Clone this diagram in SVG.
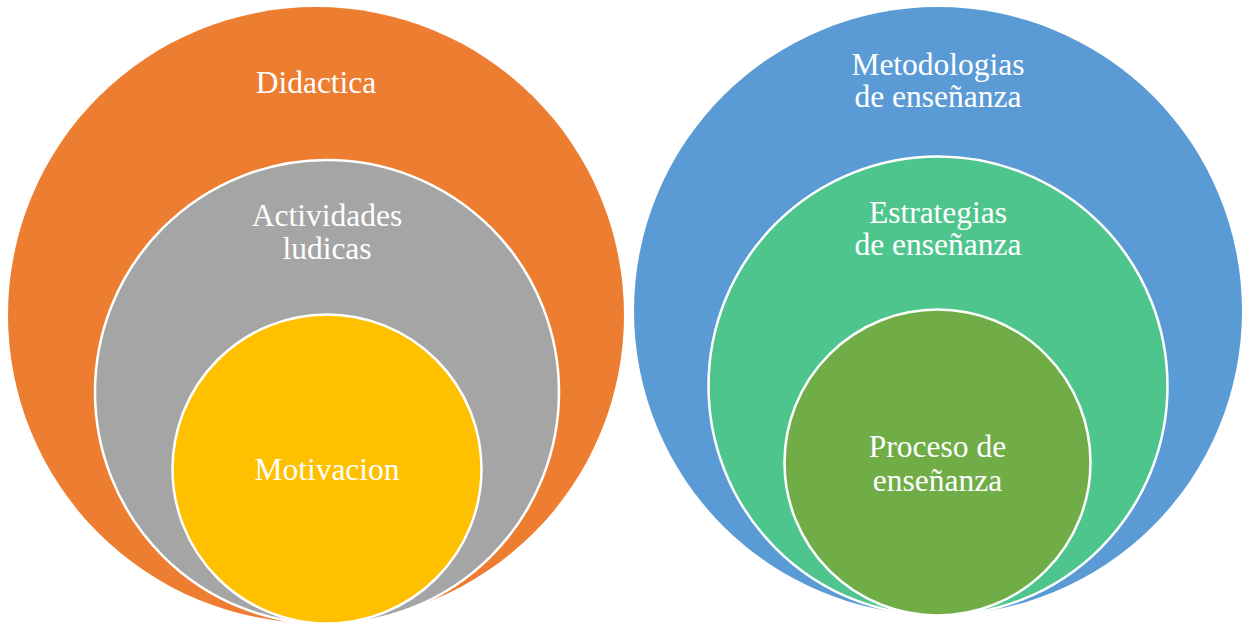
<svg xmlns="http://www.w3.org/2000/svg" width="1242" height="623" viewBox="0 0 1242 623">
<style>
.inner{stroke:#FFFFFF;stroke-width:2.5}
.lbl{font-family:"Liberation Serif","Times New Roman",serif;font-size:31.5px;fill:#FFFFFF;text-anchor:middle}
</style>
<rect x="0" y="0" width="1242" height="623" fill="#FFFFFF"/>
<g id="didactica">
<circle cx="316" cy="315" r="308" fill="#ED7D31"/>
<text class="lbl" x="316" y="93">Didactica</text>
</g>
<g id="actividades">
<circle class="inner" cx="327" cy="392" r="232" fill="#A5A5A5"/>
<text class="lbl" x="327" y="226">Actividades</text>
<text class="lbl" x="327" y="259">ludicas</text>
</g>
<g id="motivacion">
<circle class="inner" cx="327" cy="469" r="154.5" fill="#FFC000"/>
<text class="lbl" x="327" y="480">Motivacion</text>
</g>
<g id="metodologias">
<circle cx="938" cy="311" r="304" fill="#5B9BD5"/>
<text class="lbl" x="938" y="75">Metodologias</text>
<text class="lbl" x="938" y="107">de enseñanza</text>
</g>
<g id="estrategias">
<circle class="inner" cx="938" cy="386" r="229.5" fill="#4FC58E"/>
<text class="lbl" x="938" y="223">Estrategias</text>
<text class="lbl" x="938" y="255">de enseñanza</text>
</g>
<g id="proceso">
<circle class="inner" cx="937.5" cy="462.5" r="153" fill="#70AD47"/>
<text class="lbl" x="937.5" y="457">Proceso de</text>
<text class="lbl" x="937.5" y="491">enseñanza</text>
</g>
<g id="connectors"></g>
</svg>
